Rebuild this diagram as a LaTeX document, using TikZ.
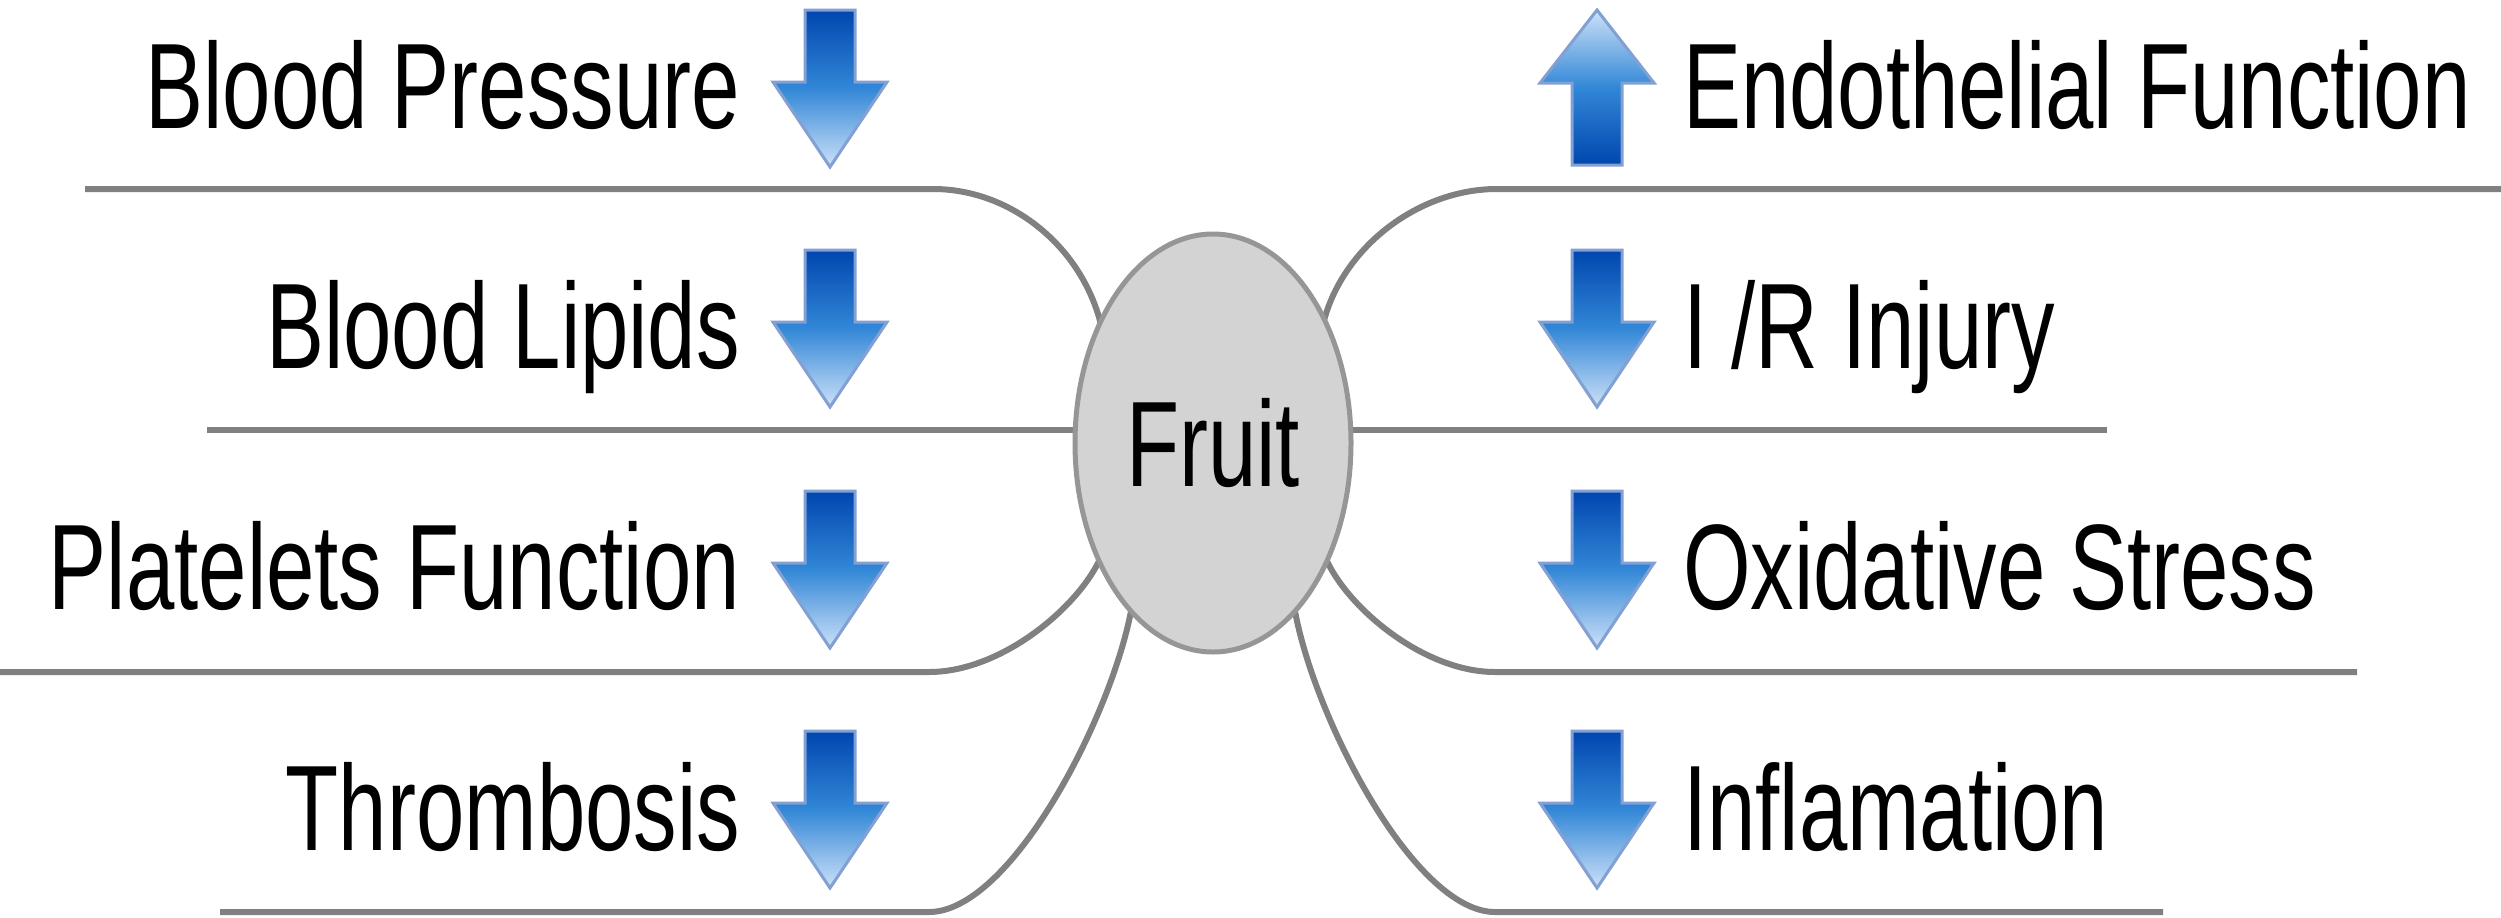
\documentclass[tikz,border=0pt]{standalone}
\usepackage{fontspec}
\setmainfont{Liberation Sans}[FakeStretch=0.715]
\usetikzlibrary{shapes.geometric,backgrounds}
\definecolor{linegray}{RGB}{128,128,128}
\definecolor{fillgray}{RGB}{211,211,211}
\definecolor{edgegray}{RGB}{150,150,150}
\definecolor{adark}{RGB}{0,70,175}
\definecolor{amid}{RGB}{50,135,215}
\definecolor{alight}{RGB}{205,225,248}
\definecolor{aedge}{RGB}{130,160,210}
\tikzset{
  lbl/.style={inner sep=0pt, outer sep=0pt, text=black, font=\fontsize{34.6}{40}\selectfont},
  branch/.style={draw=linegray, line width=0.6mm},
  arrowfill/.style={draw=aedge, line width=0.3mm, line join=miter},
  downarr/.pic={\shadedraw[arrowfill, top color=adark, bottom color=alight, middle color=amid]
     (-25,0) -- (25,0) -- (25,72) -- (57,72) -- (0,157) -- (-57,72) -- (-25,72) -- cycle;},
  uparr/.pic={\shadedraw[arrowfill, top color=alight, bottom color=adark, middle color=amid]
     (-25,155) -- (25,155) -- (25,73) -- (57,73) -- (0,0) -- (-57,73) -- (-25,73) -- cycle;}
}
\begin{document}
\begin{tikzpicture}[x=0.1mm,y=-0.1mm]
\useasboundingbox (0,0) rectangle (2501,917);
% centre
\node[ellipse, draw=edgegray, fill=fillgray, line width=0.5mm, inner sep=0pt, outer sep=0pt,
      minimum width=27.6mm, minimum height=41.8mm, font=\fontsize{34.6}{40}\selectfont] (fruit) at (1213,443) {Fruit};
% left labels
\node[lbl, anchor=base east] (bp) at (740,128) {Blood Pressure};
\node[lbl, anchor=base east] (bl) at (740,368) {Blood Lipids};
\node[lbl, anchor=base east] (pf) at (740,609) {Platelets Function};
\node[lbl, anchor=base east] (th) at (740,850) {Thrombosis};
% right labels
\node[lbl, anchor=base west] (ef) at (1683,128) {Endothelial Function};
\node[lbl, anchor=base west] (ir) at (1683,368) {I /R Injury};
\node[lbl, anchor=base west] (os) at (1683,609) {Oxidative Stress};
\node[lbl, anchor=base west] (in) at (1683,850) {Inflamation};
% arrows
\pic at (830,10) {downarr};
\pic at (830,250) {downarr};
\pic at (830,491) {downarr};
\pic at (830,731) {downarr};
\pic at (1597,10) {uparr};
\pic at (1597,250) {downarr};
\pic at (1597,491) {downarr};
\pic at (1597,731) {downarr};
% branch end points
\coordinate (l1s) at (85,189);   \coordinate (l1b) at (933,189);
\coordinate (l2s) at (207,430);
\coordinate (l3s) at (0,672);    \coordinate (l3b) at (929,672);
\coordinate (l4s) at (220,912);  \coordinate (l4b) at (929,912);
\coordinate (r1e) at (2501,189); \coordinate (r1b) at (1497,189);
\coordinate (r2e) at (2107,430);
\coordinate (r3e) at (2357,672); \coordinate (r3b) at (1495,672);
\coordinate (r4e) at (2163,912); \coordinate (r4b) at (1495,912);
\begin{pgfonlayer}{background}
\draw[branch] (l1s) -- (l1b) .. controls (1010,189) and (1080,245) .. (fruit.133);
\draw[branch] (l2s) -- (l2s -| fruit.west);
\draw[branch] (l3s) -- (l3b) .. controls (1000,672) and (1075,610) .. (fruit.226);
\draw[branch] (l4s) -- (l4b) .. controls (1010,912) and (1110,720) .. (fruit.244);
\draw[branch] (r1e) -- (r1b) .. controls (1420,189) and (1345,245) .. (fruit.48);
\draw[branch] (r2e) -- (r2e -| fruit.east);
\draw[branch] (r3e) -- (r3b) .. controls (1425,672) and (1350,610) .. (fruit.314);
\draw[branch] (r4e) -- (r4b) .. controls (1415,912) and (1315,720) .. (fruit.296);
\end{pgfonlayer}
\end{tikzpicture}
\end{document}
